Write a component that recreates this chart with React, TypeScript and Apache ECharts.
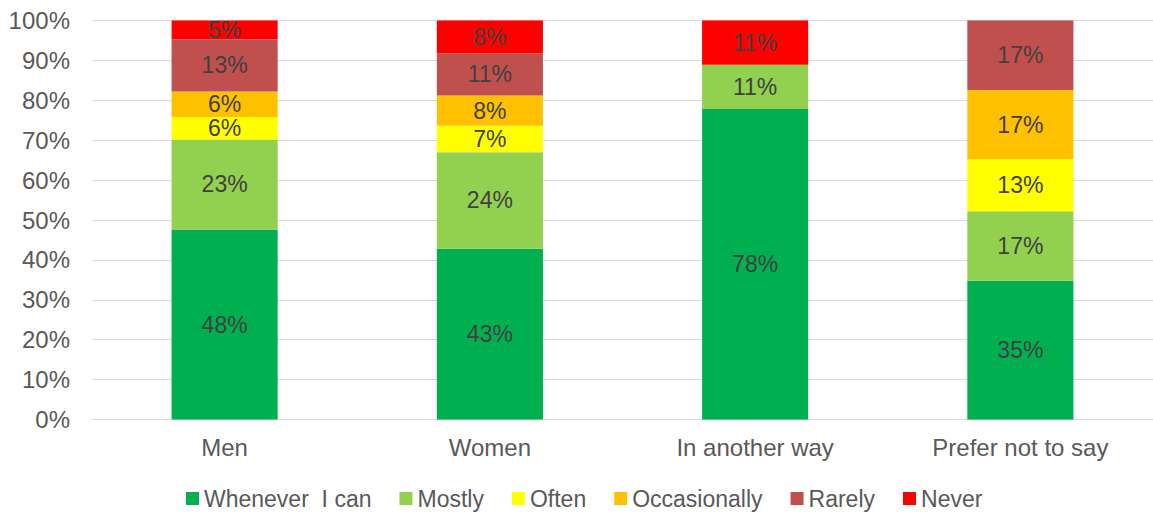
import React, { useEffect, useRef } from "react";
import * as echarts from "echarts";

// Share of respondents (%) per gender group, per frequency answer
const categories = ["Men", "Women", "In another way", "Prefer not to say"];
const seriesNames = ["Whenever  I can", "Mostly", "Often", "Occasionally", "Rarely", "Never"];
const seriesColors = ["#00B050", "#92D050", "#FFFF00", "#FFC000", "#C0504D", "#FF0000"];

const whenever = [47.6, 42.8, 77.8, 34.8];
const mostly = [22.6, 24.2, 11.1, 17.4];
const often = [5.6, 6.6, 0, 13.0];
const occasionally = [6.4, 7.6, 0, 17.4];
const rarely = [13.1, 10.6, 0, 17.4];
const never = [4.7, 8.2, 11.1, 0];

const yTicks = [0, 10, 20, 30, 40, 50, 60, 70, 80, 90, 100];

const FONT = "'Liberation Sans', Arial, sans-serif";
const AXIS_FONT_SIZE = 24;
const LEGEND_FONT_SIZE = 23;
const LABEL_FONT_SIZE = 23;

export default function App() {
  const ref = useRef<HTMLDivElement>(null);

  useEffect(() => {
    document.body.style.margin = "0";
    if (!ref.current) return;
    const chart = echarts.init(ref.current, undefined, { renderer: "svg" });
    const values = [whenever, mostly, often, occasionally, rarely, never];

    chart.setOption({
      animation: false,
      textStyle: { fontFamily: FONT },
      grid: { left: 92, right: 0, top: 20.5, bottom: 93.5, containLabel: false },
      legend: {
        left: 186,
        top: 487,
        padding: 0,
        itemWidth: 13,
        itemHeight: 13,
        itemGap: 28,
        icon: "rect",
        textStyle: { fontFamily: FONT, fontSize: LEGEND_FONT_SIZE, color: "#595959" },
        data: seriesNames,
      },
      xAxis: {
        type: "category",
        data: categories,
        axisLine: { lineStyle: { color: "#D9D9D9", width: 1 } },
        axisTick: { show: false },
        axisLabel: { fontFamily: FONT, fontSize: AXIS_FONT_SIZE, color: "#595959", margin: 16 },
      },
      yAxis: {
        type: "value",
        min: yTicks[0],
        max: yTicks[yTicks.length - 1],
        interval: 10,
        axisLine: { show: false },
        axisTick: { show: false },
        splitLine: { lineStyle: { color: "#D9D9D9", width: 1 } },
        axisLabel: {
          fontFamily: FONT,
          fontSize: AXIS_FONT_SIZE,
          color: "#595959",
          margin: 22,
          formatter: (v: number) => `${v}%`,
        },
      },
      series: seriesNames.map((name, i) => ({
        name,
        type: "bar",
        stack: "total",
        barWidth: "40%",
        itemStyle: { color: seriesColors[i] },
        label: {
          show: true,
          position: "inside",
          fontFamily: FONT,
          fontSize: LABEL_FONT_SIZE,
          lineHeight: LABEL_FONT_SIZE,
          color: "#404040",
          formatter: (p: any) => (p.value > 0 ? `${Math.round(p.value)}%` : ""),
        },
        data: values[i],
      })),
    });

    return () => chart.dispose();
  }, []);

  return <div ref={ref} style={{ width: 1153, height: 513 }} />;
}
